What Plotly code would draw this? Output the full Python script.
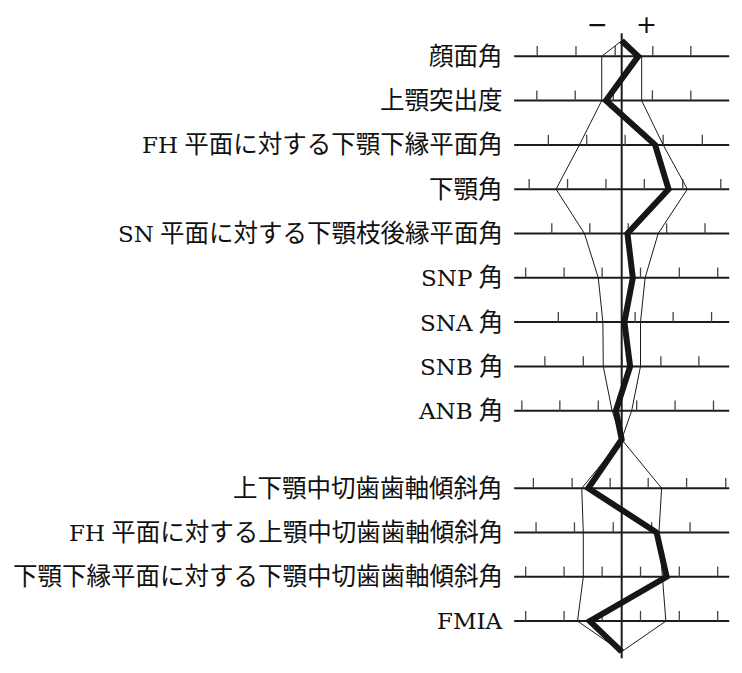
import plotly.graph_objects as go

# Polygonogram: measurement labels, normal range (mean -/+ 1 SD) and patient values.
# Horizontal unit = one scale division on each row, 0 = mean.
labels = ['顔面角', '上顎突出度', 'FH 平面に対する下顎下縁平面角', '下顎角',
          'SN 平面に対する下顎枝後縁平面角', 'SNP 角', 'SNA 角', 'SNB 角', 'ANB 角',
          '上下顎中切歯歯軸傾斜角', 'FH 平面に対する上顎中切歯歯軸傾斜角',
          '下顎下縁平面に対する下顎中切歯歯軸傾斜角', 'FMIA']

sd_low = [-0.52, -0.52, -1.10, -1.71, -0.97, -0.61, -0.49, -0.48, -0.25,
          -1.04, -1.00, -1.00, -1.15]
sd_high = [0.52, 0.52, 1.08, 1.71, 0.95, 0.61, 0.49, 0.49, 0.26,
           1.04, 0.97, 1.06, 1.15]
patient = [0.43, -0.41, 0.87, 1.22, 0.15, 0.29, 0.07, 0.22, -0.15,
           -0.87, 0.91, 1.17, -0.83]

ticks = [
    [-2.20, -1.19, -0.17, 0.81, 1.80],
    [-2.21, -1.21, -0.22, 0.80, 1.80],
    [-1.91, -0.91, 0.09, 1.08, 2.10],
    [-2.41, -1.41, -0.41, 0.59, 1.59, 2.58],
    [-1.82, -0.83, 0.17, 1.17, 2.17],
    [-2.50, -1.50, -0.51, 0.49, 1.50, 2.50],
    [-1.65, -0.65, 0.35, 1.34, 2.34],
    [-2.00, -1.00, 0.00, 1.02, 2.01],
    [-2.60, -1.61, -0.61, 0.39, 1.39, 2.39],
    [-2.30, -1.29, -0.30, 0.69, 1.69, 2.71],
    [-2.23, -1.23, -0.22, 0.78, 1.78],
    [-2.50, -1.50, -0.51, 0.49, 1.50, 2.50],
    [-2.50, -1.50, -0.51, 0.49, 1.50, 2.50],
]

# vertical layout: 9 skeletal rows, a gap, then 4 dental rows
n_top = 9
gap = 0.75
row_y = [i if i < n_top else i + gap for i in range(len(labels))]
top_y, mid_y, bot_y = -0.35, 8.65, 13.44
half = 2.80
tick_h = 0.23

black = '#1c1c1c'
font = 'Liberation Serif, Noto Sans CJK JP, serif'


def latin_big(s):
    # latin letters of the labels use a wider serif face than the kana/kanji
    out, buf = '', ''
    span = '<span style="font-family:\'DejaVu Serif\';font-size:23px">'
    for ch in s:
        if ch.isascii() and ch != ' ':
            buf += ch
        else:
            if buf:
                out += span + buf + '</span>'
                buf = ''
            out += ch
    if buf:
        out += span + buf + '</span>'
    return out


fig = go.Figure()

# horizontal scale lines
hx, hy = [], []
for y in row_y:
    hx += [-half, half, None]
    hy += [y, y, None]
fig.add_trace(go.Scatter(x=hx, y=hy, mode='lines', line=dict(color=black, width=2),
                         hoverinfo='skip'))

# scale divisions
tx, ty = [], []
for y, row in zip(row_y, ticks):
    for t in row:
        tx += [t, t, None]
        ty += [y, y - tick_h, None]
fig.add_trace(go.Scatter(x=tx, y=ty, mode='lines', line=dict(color='#444444', width=1.3),
                         hoverinfo='skip'))

# mean line
fig.add_trace(go.Scatter(x=[0, 0], y=[-0.52, 13.59], mode='lines',
                         line=dict(color=black, width=2), hoverinfo='skip'))


def outline(vals):
    xs = [0] + vals[:n_top] + [0] + vals[n_top:] + [0]
    ys = [top_y] + row_y[:n_top] + [mid_y] + row_y[n_top:] + [bot_y]
    return xs, ys


# normal range
for vals in (sd_low, sd_high):
    xs, ys = outline(vals)
    fig.add_trace(go.Scatter(x=xs, y=ys, mode='lines', line=dict(color=black, width=1),
                             hoverinfo='skip'))

# patient
xs, ys = outline(patient)
fig.add_trace(go.Scatter(x=xs, y=ys, mode='lines', line=dict(color='#161616', width=6),
                         hoverinfo='skip'))

for lab, y in zip(labels, row_y):
    fig.add_annotation(x=-3.04, y=y, text=latin_big(lab), showarrow=False, xanchor='right',
                       yanchor='middle', font=dict(family=font, size=24.5, color='#111111'))

sign_font = dict(family='DejaVu Sans', size=25, color='#111111')
fig.add_annotation(x=-0.64, y=-0.72, text='−', showarrow=False, font=sign_font)
fig.add_annotation(x=0.65, y=-0.72, text='+', showarrow=False, font=sign_font)

# ranges chosen so the page's 8px body margin lands the drawing where the original sits
fig.update_layout(
    width=742, height=673,
    margin=dict(l=0, r=0, t=0, b=0),
    showlegend=False,
    plot_bgcolor='white', paper_bgcolor='white',
    xaxis=dict(range=[-15.98, 3.341], visible=False, fixedrange=True),
    yaxis=dict(range=[14.102, -1.090], visible=False, fixedrange=True),
)

fig.write_html("out.html")
